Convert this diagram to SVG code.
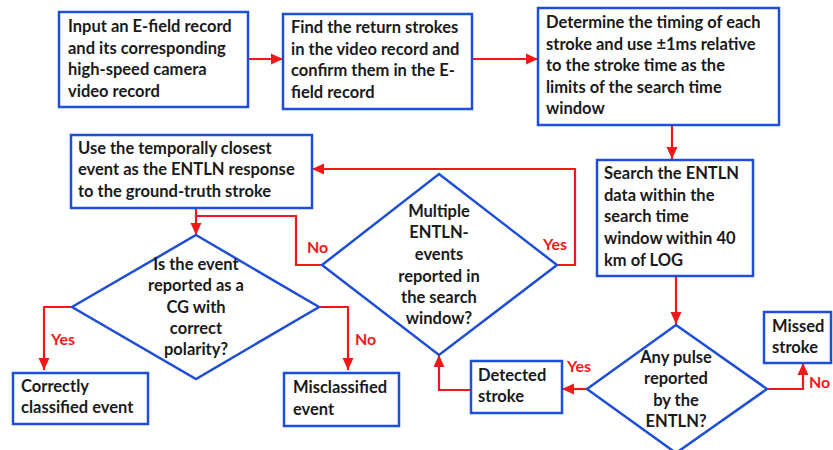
<svg xmlns="http://www.w3.org/2000/svg" width="833" height="450" viewBox="0 0 833 450">
<defs>
<marker id="ah" markerUnits="userSpaceOnUse" markerWidth="14" markerHeight="14" viewBox="0 0 14 14" refX="13" refY="7" orient="auto">
<path d="M1,1.5 L13,7 L1,12.5 Z" fill="#f01818"/>
</marker>
<style>
.box{fill:#ffffff;stroke:#1e4fd6;stroke-width:2.5}
.t{font-family:Lato,"Liberation Sans",sans-serif;font-weight:bold;font-size:16.5px;fill:#1a1a1a}
.c{text-anchor:middle}
.lbl{font-family:Lato,"Liberation Sans",sans-serif;font-weight:bold;font-size:16px;fill:#f01818}
.ln{fill:none;stroke:#f01818;stroke-width:2.2}
</style>
</defs>
<rect width="833" height="450" fill="#ffffff"/>
<g id="connectors">
<path class="ln" d="M248,59 H283" marker-end="url(#ah)"/>
<path class="ln" d="M472,59 H538" marker-end="url(#ah)"/>
<path class="ln" d="M672,125 V159" marker-end="url(#ah)"/>
<path class="ln" d="M676,276 V324" marker-end="url(#ah)"/>
<path class="ln" d="M587,389 H562" marker-end="url(#ah)"/>
<path class="ln" d="M767,389 H803 V363" marker-end="url(#ah)"/>
<path class="ln" d="M471,390 H439 V355" marker-end="url(#ah)"/>
<path class="ln" d="M557,265 H575 V169 H312" marker-end="url(#ah)"/>
<path class="ln" d="M322,265 H296 V216 H196"/>
<path class="ln" d="M196,208 V235" marker-end="url(#ah)"/>
<path class="ln" d="M72,307 H44 V370" marker-end="url(#ah)"/>
<path class="ln" d="M319,307 H348 V370" marker-end="url(#ah)"/>
<text class="lbl" x="567" y="372">Yes</text>
<text class="lbl" x="809" y="388">No</text>
<text class="lbl" x="543" y="250">Yes</text>
<text class="lbl" x="307" y="253">No</text>
<text class="lbl" x="51" y="345">Yes</text>
<text class="lbl" x="355" y="345">No</text>
</g>
<g id="input">
<rect class="box" x="59" y="12" width="189" height="95"/>
<text class="t" x="68" y="32">Input an E-field record</text>
<text class="t" x="68" y="53.5">and its corresponding</text>
<text class="t" x="68" y="75">high-speed camera</text>
<text class="t" x="68" y="96.5">video record</text>
</g>
<g id="find">
<rect class="box" x="283" y="14" width="189" height="95"/>
<text class="t" x="291" y="33">Find the return strokes</text>
<text class="t" x="291" y="55">in the video record and</text>
<text class="t" x="291" y="76">confirm them in the E-</text>
<text class="t" x="291" y="98">field record</text>
</g>
<g id="timing">
<rect class="box" x="538" y="8" width="241" height="117"/>
<text class="t" x="546" y="28">Determine the timing of each</text>
<text class="t" x="546" y="50">stroke and use ±1ms relative</text>
<text class="t" x="546" y="71">to the stroke time as the</text>
<text class="t" x="546" y="93">limits of the search time</text>
<text class="t" x="546" y="114">window</text>
</g>
<g id="search">
<rect class="box" x="597" y="160" width="156" height="116"/>
<text class="t" x="604" y="179">Search the ENTLN</text>
<text class="t" x="604" y="201">data within the</text>
<text class="t" x="604" y="222">search time</text>
<text class="t" x="604" y="244">window within 40</text>
<text class="t" x="604" y="266">km of LOG</text>
</g>
<g id="anypulse">
<polygon class="box" points="676,325 767,389 676,453 587,389"/>
<text class="t c" x="676" y="363">Any pulse</text>
<text class="t c" x="676" y="384">reported</text>
<text class="t c" x="676" y="406">by the</text>
<text class="t c" x="676" y="427">ENTLN?</text>
</g>
<g id="missed">
<rect class="box" x="764" y="312" width="67" height="51"/>
<text class="t" x="772" y="332">Missed</text>
<text class="t" x="772" y="353">stroke</text>
</g>
<g id="detected">
<rect class="box" x="471" y="361" width="91" height="52"/>
<text class="t" x="478" y="381">Detected</text>
<text class="t" x="478" y="402">stroke</text>
</g>
<g id="multiple">
<polygon class="box" points="439,174 557,265 439,355 322,265"/>
<text class="t c" x="439" y="217">Multiple</text>
<text class="t c" x="439" y="238">ENTLN-</text>
<text class="t c" x="439" y="260">events</text>
<text class="t c" x="439" y="282">reported in</text>
<text class="t c" x="439" y="303">the search</text>
<text class="t c" x="439" y="324">window?</text>
</g>
<g id="closest">
<rect class="box" x="71" y="135" width="241" height="73"/>
<text class="t" x="78" y="154">Use the temporally closest</text>
<text class="t" x="78" y="175">event as the ENTLN response</text>
<text class="t" x="78" y="197">to the ground-truth stroke</text>
</g>
<g id="cg">
<polygon class="box" points="196,235 319,307 196,379 72,307"/>
<text class="t c" x="196" y="270">Is the event</text>
<text class="t c" x="196" y="291">reported as a</text>
<text class="t c" x="196" y="313">CG with</text>
<text class="t c" x="196" y="334">correct</text>
<text class="t c" x="196" y="355">polarity?</text>
</g>
<g id="correct">
<rect class="box" x="13" y="373" width="135" height="51"/>
<text class="t" x="21" y="392">Correctly</text>
<text class="t" x="21" y="413">classified event</text>
</g>
<g id="misclassified">
<rect class="box" x="284" y="373" width="115" height="53"/>
<text class="t" x="293" y="393">Misclassified</text>
<text class="t" x="293" y="415">event</text>
</g>
</svg>
